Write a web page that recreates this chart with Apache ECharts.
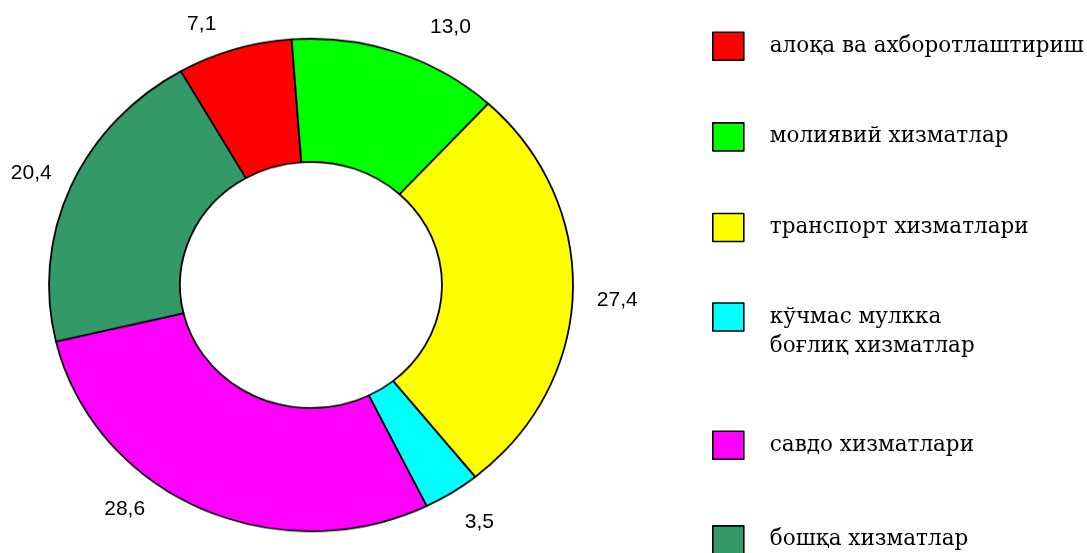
<!DOCTYPE html>
<html>
<head>
<meta charset="utf-8">
<title>Хизматлар таркиби</title>
<script src="https://cdn.jsdelivr.net/npm/echarts@6/dist/echarts.min.js"></script>
<style>
  html, body { margin: 0; padding: 0; background: #fff; }
  .com-container { position: relative; width: 1087px; height: 553px; overflow: hidden; }
  .com-chart { position: absolute; left: 0; top: 0; width: 1087px; height: 553px; }
  /* the ring in the original is a bit flattened, so only the ring layer gets squeezed */
  #ring-ref { transform: scaleY(0.94); transform-origin: 311px 285px; }
</style>
</head>
<body>
<div class="com-container">
  <div class="com-chart" id="ring-ref"></div>
  <div class="com-chart" id="text-ref"></div>
</div>
<script>
// данные
const serviceNames = [
  'алоқа ва ахборотлаштириш',
  'молиявий хизматлар',
  'транспорт хизматлари',
  'кўчмас мулкка\nбоғлиқ хизматлар',
  'савдо хизматлари',
  'бошқа хизматлар'
]
const serviceShares = [7.1, 13.0, 27.4, 3.5, 28.6, 20.4]

const sliceColors = ['#FF0000', '#00FF00', '#FFFF00', '#00FFFF', '#FF00FF', '#339966']
// небольшие сдвиги подписей, как в оригинале
const labelNudge = [[-18, -10], [33, -10], [24, 7], [13, 16], [-54, -13], [-19, -7]]

const pieCenter = [311, 285]
const pieRadius = [131, 262]
const startAngle = 119.8

const pieData = serviceNames.map((name, i) => {
  return { name: name, value: serviceShares[i], itemStyle: { color: sliceColors[i] } }
})

// слой с кольцом
const ringChart = echarts.init(document.getElementById('ring-ref'), null, { renderer: 'canvas' })
ringChart.setOption({
  animation: false,
  series: [{
    type: 'pie',
    center: pieCenter,
    radius: pieRadius,
    startAngle: startAngle,
    clockwise: true,
    silent: true,
    label: { show: false },
    labelLine: { show: false },
    itemStyle: { borderColor: '#000', borderWidth: 1.8 },
    data: pieData
  }]
})

// слой с подписями и легендой
const textChart = echarts.init(document.getElementById('text-ref'), null, { renderer: 'canvas' })
const legendBase = {
  orient: 'vertical',
  left: 712,
  height: 160,
  padding: 0,
  icon: 'rect',
  itemWidth: 31,
  itemHeight: 28,
  selectedMode: false,
  itemStyle: { opacity: 1, borderColor: '#000', borderWidth: 1.6 },
  textStyle: {
    fontFamily: '"DejaVu Serif", "Liberation Serif", serif',
    fontSize: 21.5,
    lineHeight: 29,
    color: '#000',
    padding: [0, 0, 0, 21]
  },
  formatter: (name) => {
    // две строки: первую держим на уровне квадрата
    return name.indexOf('\n') >= 0 ? '\n' + name : name
  }
}
textChart.setOption({
  animation: false,
  legend: [
    Object.assign({}, legendBase, { top: 31.5, height: 260, itemGap: 61, data: serviceNames.slice(0, 3) }),
    Object.assign({}, legendBase, { top: 273.5, data: serviceNames.slice(3, 4) }),
    Object.assign({}, legendBase, { top: 430.5, height: 140, itemGap: 65, data: serviceNames.slice(4) })
  ],
  series: [{
    type: 'pie',
    center: pieCenter,
    radius: pieRadius,
    startAngle: startAngle,
    clockwise: true,
    silent: true,
    avoidLabelOverlap: false,
    itemStyle: { opacity: 0, borderWidth: 0 },
    label: {
      show: true,
      position: 'outside',
      opacity: 1,
      color: '#000',
      fontFamily: '"Liberation Sans", Arial, sans-serif',
      fontSize: 21,
      distanceToLabelLine: 0,
      formatter: (params) => params.value.toFixed(1).replace('.', ',')
    },
    labelLine: { show: false, length: 0, length2: 0 },
    labelLayout: (params) => {
      const n = labelNudge[params.dataIndex]
      return { dx: n[0], dy: n[1] }
    },
    data: pieData
  }]
})
</script>
</body>
</html>
